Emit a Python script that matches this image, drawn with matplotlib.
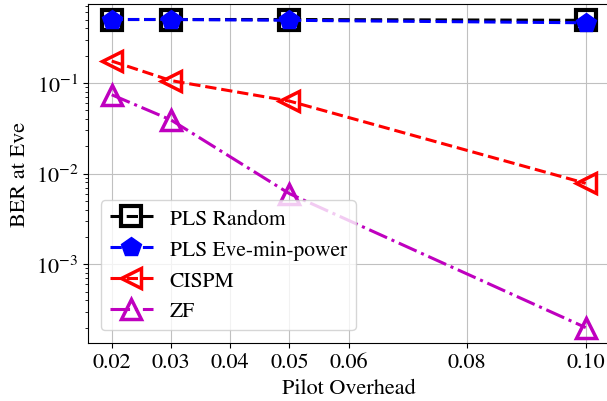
import matplotlib
matplotlib.use("Agg")
import matplotlib.pyplot as plt

plt.rcParams['font.family'] = ['STIXGeneral', 'DejaVu Serif']
plt.rcParams['mathtext.fontset'] = 'stix'
plt.rcParams['font.size'] = 16

# Pilot overhead values and BER at Eve for each scheme
pilot_overhead = [0.02, 0.03, 0.05, 0.10]
ber_pls_random = [0.50, 0.50, 0.50, 0.49]
ber_pls_eve_min = [0.50, 0.50, 0.49, 0.46]
ber_cispm = [0.174, 0.106, 0.063, 0.0078]
ber_zf = [0.074, 0.039, 0.006, 0.0002]

xticks = [0.02, 0.03, 0.04, 0.05, 0.06, 0.08, 0.10]
xtick_labels = ['0.02', '0.03', '0.04', '0.05', '0.06', '0.08', '0.10']

fig = plt.figure(figsize=(6.07, 4.02), dpi=100)
ax = fig.add_axes([0.145, 0.1443, 0.859, 0.843])

ax.semilogy(pilot_overhead, ber_pls_random, 'k--s', fillstyle='none',
            markersize=15, markeredgewidth=3, linewidth=2.2, label='PLS Random')
ax.semilogy(pilot_overhead, ber_pls_eve_min, 'b--p', markersize=15,
            linewidth=2.2, label='PLS Eve-min-power')
ax.semilogy(pilot_overhead, ber_cispm, 'r--<', fillstyle='none',
            markersize=15, markeredgewidth=2.5, linewidth=2.2, label='CISPM')
ax.semilogy(pilot_overhead, ber_zf, 'm-.^', fillstyle='none',
            markersize=15, markeredgewidth=2.5, linewidth=2.2, label='ZF')

ax.set_xticks(xticks)
ax.set_xticklabels(xtick_labels)
ax.set_xlabel('Pilot Overhead')
ax.set_ylabel('BER at Eve')
ax.grid(True, which='major', color='#c0c0c0')
ax.legend(loc='lower left', borderaxespad=0.6, fontsize=15.5)

fig.savefig('out.png', dpi=100)
